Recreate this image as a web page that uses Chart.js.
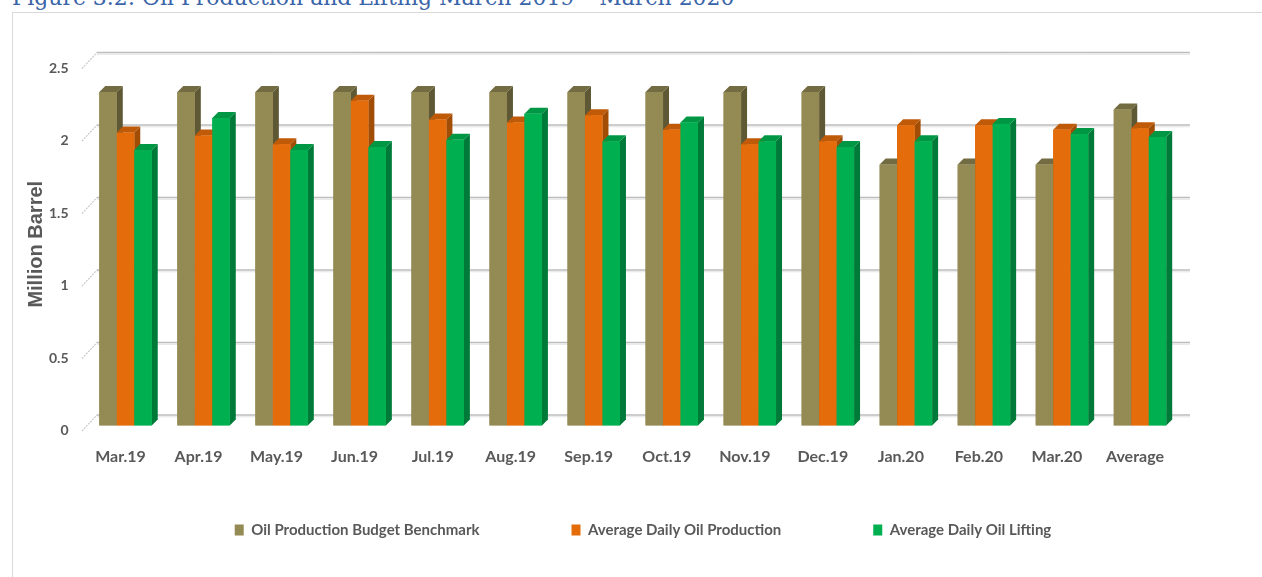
<!DOCTYPE html>
<html>
<head>
<meta charset="utf-8">
<script src="https://cdn.jsdelivr.net/npm/chart.js@4.4.1/dist/chart.umd.min.js"></script>
<style>
  html, body { margin: 0; padding: 0; width: 1262px; height: 577px; overflow: hidden; background: #ffffff; }
  #frame { position: absolute; left: 12px; top: 12px; width: 1300px; height: 620px; border: 1px solid #d9d9d9; box-sizing: border-box; }
  #title { position: absolute; left: 12px; top: -15px; font-family: "DejaVu Serif", "Liberation Serif", serif; font-size: 22px; line-height: 26px; color: #3A64A8; white-space: nowrap; }
  #wrap { position: absolute; left: 0; top: 0; width: 1262px; height: 577px; }
</style>
</head>
<body>
<div id="frame"></div>
<div id="title">Figure 3.2: Oil Production and Lifting March 2019 – March 2020</div>
<div id="wrap"><canvas id="c"></canvas></div>
<script>
// ---- data ----
const categories = ['Mar.19','Apr.19','May.19','Jun.19','Jul.19','Aug.19','Sep.19','Oct.19','Nov.19','Dec.19','Jan.20','Feb.20','Mar.20','Average'];
const seriesNames = ['Oil Production Budget Benchmark','Average Daily Oil Production','Average Daily Oil Lifting'];
const benchmark  = [2.30, 2.30, 2.30, 2.30, 2.30, 2.30, 2.30, 2.30, 2.30, 2.30, 1.80, 1.80, 1.80, 2.18];
const production = [2.02, 2.00, 1.94, 2.24, 2.11, 2.09, 2.14, 2.04, 1.94, 1.96, 2.07, 2.07, 2.04, 2.05];
const lifting    = [1.90, 2.12, 1.90, 1.92, 1.97, 2.15, 1.96, 2.09, 1.96, 1.92, 1.96, 2.08, 2.01, 1.99];
const yTicks = [0, 0.5, 1, 1.5, 2, 2.5];

// ---- styles ----
const frontColors = ['#948A54', '#E46C0A', '#00B050'];
const sideColors  = ['#5E5834', '#A24D06', '#007A38'];
const topColors   = ['#736B41', '#BF5A08', '#009744'];
const textColor = '#595959';
const DX = 6, DY = 6, WALL = 10.5;

// fit title width
(function(){
  const t = document.getElementById('title');
  const c = document.createElement('canvas').getContext('2d');
  c.font = '22px "DejaVu Serif"';
  const w = c.measureText(t.textContent).width;
  const fs = 22 * 723 / w;
  t.style.fontSize = fs.toFixed(2) + 'px';
})();

const threeD = {
  id: 'threeD',
  beforeDatasetsDraw(chart) {
    const ctx = chart.ctx, ys = chart.scales.y, a = chart.chartArea;
    ctx.save();
    yTicks.forEach(v => {
      const yf = ys.getPixelForValue(v);
      const yb = yf - WALL;
      ctx.strokeStyle = '#e4e4e4';
      ctx.lineWidth = 1;
      ctx.beginPath(); ctx.moveTo(a.left + WALL, yb + 1.8); ctx.lineTo(a.right + 11, yb + 1.8); ctx.stroke();
      ctx.strokeStyle = '#bdbdbd';
      ctx.lineWidth = 1.6;
      ctx.beginPath(); ctx.moveTo(a.left + WALL, yb); ctx.lineTo(a.right + 11, yb); ctx.stroke();
      ctx.strokeStyle = '#c9c9c9';
      ctx.lineWidth = 1.2;
      ctx.setLineDash([2, 1]);
      ctx.beginPath(); ctx.moveTo(a.left - 4.5, yf + 5.5); ctx.lineTo(a.left + WALL, yb); ctx.stroke();
      ctx.setLineDash([]);
    });
    ctx.restore();
  },
  afterDatasetsDraw(chart) {
    const ctx = chart.ctx;
    const n = chart.data.labels.length;
    ctx.save();
    for (let i = 0; i < n; i++) {
      for (let d = 0; d < chart.data.datasets.length; d++) {
        const bar = chart.getDatasetMeta(d).data[i];
        const p = bar.getProps(['x', 'y', 'base', 'width'], true);
        const l = p.x - p.width / 2, r = p.x + p.width / 2;
        ctx.fillStyle = sideColors[d];
        ctx.beginPath();
        ctx.moveTo(r, p.y); ctx.lineTo(r + DX, p.y - DY); ctx.lineTo(r + DX, p.base - DY); ctx.lineTo(r, p.base);
        ctx.closePath(); ctx.fill();
        ctx.fillStyle = topColors[d];
        ctx.beginPath();
        ctx.moveTo(l, p.y); ctx.lineTo(l + DX, p.y - DY); ctx.lineTo(r + DX, p.y - DY); ctx.lineTo(r, p.y);
        ctx.closePath(); ctx.fill();
        ctx.fillStyle = frontColors[d];
        ctx.fillRect(l, p.y, p.width, p.base - p.y);
      }
    }
    ctx.restore();
  }
};

new Chart(document.getElementById('c'), {
  type: 'bar',
  data: {
    labels: categories,
    datasets: [
      { label: seriesNames[0], data: benchmark,  backgroundColor: frontColors[0], borderWidth: 0 },
      { label: seriesNames[1], data: production, backgroundColor: frontColors[1], borderWidth: 0 },
      { label: seriesNames[2], data: lifting,    backgroundColor: frontColors[2], borderWidth: 0 }
    ]
  },
  options: {
    responsive: true,
    maintainAspectRatio: false,
    animation: false,
    datasets: { bar: { categoryPercentage: 0.672, barPercentage: 1.0 } },
    layout: { padding: { left: 24, right: 0, top: 63, bottom: 29.5 } },
    scales: {
      x: {
        grid: { display: false, drawTicks: false },
        border: { display: false },
        ticks: { color: textColor, font: { family: 'Lato', weight: 'bold', size: 16 }, padding: 22, labelOffset: -5, maxRotation: 0, autoSkip: false },
        afterFit(s) {
          s.height = 5;
          // let the labels extend below the thin axis box (they sit in the legend's empty top padding)
          s._computeLabelArea = function () { return undefined; };
        }
      },
      y: {
        min: 0, max: 2.5,
        grid: { display: false, drawTicks: false },
        border: { display: false },
        ticks: { stepSize: 0.5, color: textColor, font: { family: 'Lato', weight: 'bold', size: 14 }, padding: 18, labelOffset: 5,
                 callback: (v) => String(+v) },
        title: { display: true, text: 'Million Barrel', color: textColor, font: { family: 'Liberation Sans', weight: 'bold', size: 20 }, padding: 0 },
        afterFit(s) { s.width = 62.5; }
      },
      y2: {
        position: 'right',
        min: 0, max: 2.5,
        grid: { display: false, drawTicks: false },
        border: { display: false },
        ticks: { display: false },
        afterFit(s) { s.width = 83; }
      }
    },
    plugins: {
      tooltip: { enabled: false },
      legend: {
        position: 'bottom',
        labels: { color: textColor, font: { family: 'Lato', weight: 'bold', size: 15 }, boxWidth: 9, boxHeight: 11, padding: 92 }
      }
    }
  },
  plugins: [threeD]
});
</script>
</body>
</html>
